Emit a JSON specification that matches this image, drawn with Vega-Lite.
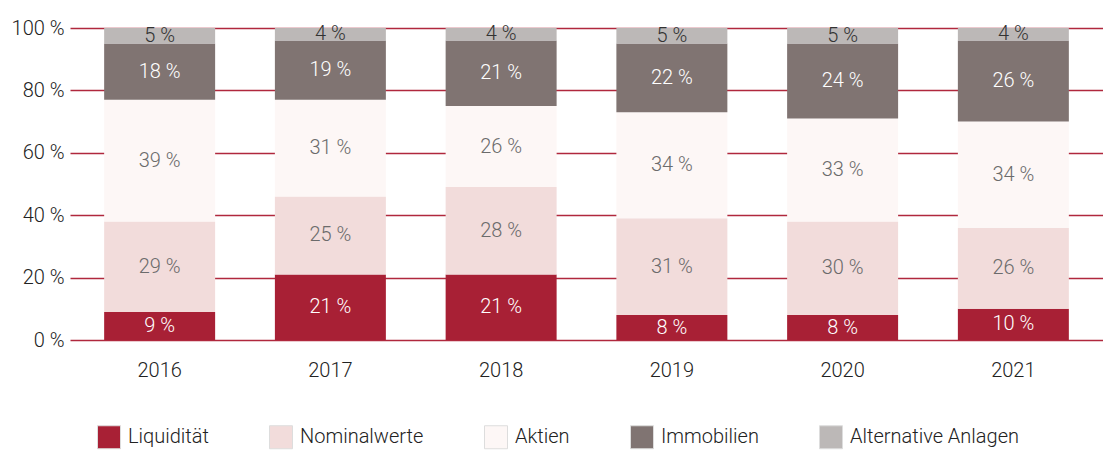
{
  "$schema": "https://vega.github.io/schema/vega-lite/v6.json",
  "autosize": {"type": "none"},
  "width": 1033,
  "height": 312,
  "padding": {"left": 70, "top": 28, "right": 0, "bottom": 110},
  "config": {
    "view": {"stroke": null},
    "font": "Roboto",
    "axis": {"labelFont": "Roboto", "labelFontWeight": 300, "labelFontSize": 20, "labelColor": "#222222"},
    "legend": {"labelFont": "Roboto", "labelFontWeight": 300, "labelFontSize": 20, "labelColor": "#222222"}
  },
  "data": {
    "values": [
      {"year": "2016", "cat": "Liquidität", "value": 9},
      {"year": "2016", "cat": "Nominalwerte", "value": 29},
      {"year": "2016", "cat": "Aktien", "value": 39},
      {"year": "2016", "cat": "Immobilien", "value": 18},
      {"year": "2016", "cat": "Alternative Anlagen", "value": 5},
      {"year": "2017", "cat": "Liquidität", "value": 21},
      {"year": "2017", "cat": "Nominalwerte", "value": 25},
      {"year": "2017", "cat": "Aktien", "value": 31},
      {"year": "2017", "cat": "Immobilien", "value": 19},
      {"year": "2017", "cat": "Alternative Anlagen", "value": 4},
      {"year": "2018", "cat": "Liquidität", "value": 21},
      {"year": "2018", "cat": "Nominalwerte", "value": 28},
      {"year": "2018", "cat": "Aktien", "value": 26},
      {"year": "2018", "cat": "Immobilien", "value": 21},
      {"year": "2018", "cat": "Alternative Anlagen", "value": 4},
      {"year": "2019", "cat": "Liquidität", "value": 8},
      {"year": "2019", "cat": "Nominalwerte", "value": 31},
      {"year": "2019", "cat": "Aktien", "value": 34},
      {"year": "2019", "cat": "Immobilien", "value": 22},
      {"year": "2019", "cat": "Alternative Anlagen", "value": 5},
      {"year": "2020", "cat": "Liquidität", "value": 8},
      {"year": "2020", "cat": "Nominalwerte", "value": 30},
      {"year": "2020", "cat": "Aktien", "value": 33},
      {"year": "2020", "cat": "Immobilien", "value": 24},
      {"year": "2020", "cat": "Alternative Anlagen", "value": 5},
      {"year": "2021", "cat": "Liquidität", "value": 10},
      {"year": "2021", "cat": "Nominalwerte", "value": 26},
      {"year": "2021", "cat": "Aktien", "value": 34},
      {"year": "2021", "cat": "Immobilien", "value": 26},
      {"year": "2021", "cat": "Alternative Anlagen", "value": 4}
    ]
  },
  "transform": [
    {"calculate": "indexof(['Liquidität','Nominalwerte','Aktien','Immobilien','Alternative Anlagen'], datum.cat)", "as": "ord"},
    {"stack": "value", "groupby": ["year"], "sort": [{"field": "ord", "order": "ascending"}], "as": ["y0", "y1"]},
    {"calculate": "(datum.y0 + datum.y1) / 2", "as": "mid"},
    {"calculate": "datum.value + ' %'", "as": "label"}
  ],
  "encoding": {
    "x": {
      "field": "year", "type": "nominal", "title": null,
      "scale": {"paddingInner": 0.35, "paddingOuter": 0.2},
      "axis": {"ticks": false, "domain": false, "labelAngle": 0, "labelPadding": 20, "grid": false}
    }
  },
  "layer": [
    {
      "mark": {"type": "bar"},
      "encoding": {
        "y": {
          "field": "y0", "type": "quantitative", "title": null,
          "scale": {"domain": [0, 100], "nice": false},
          "axis": {
            "values": [0, 20, 40, 60, 80, 100],
            "labelExpr": "datum.value + ' %'",
            "ticks": false, "domain": false,
            "grid": true, "gridColor": "#b0283d", "gridWidth": 1.5, "gridOpacity": 1,
            "labelPadding": 6, "zindex": 0
          }
        },
        "y2": {"field": "y1"},
        "color": {
          "field": "cat", "type": "nominal",
          "scale": {
            "domain": ["Liquidität", "Nominalwerte", "Aktien", "Immobilien", "Alternative Anlagen"],
            "range": ["#a82035", "#f2dcdb", "#fdf7f6", "#807472", "#bcb8b7"]
          },
          "legend": {
            "title": null,
            "orient": "none",
            "direction": "horizontal",
            "legendX": 27,
            "legendY": 397,
            "symbolType": "square",
            "symbolSize": 529,
            "symbolStrokeColor": "#dddddd",
            "symbolStrokeWidth": 1,
            "columnPadding": 58,
            "labelOffset": 7,
            "labelLimit": 400
          }
        }
      }
    },
    {
      "mark": {"type": "text", "fontSize": 20, "fontWeight": 300, "baseline": "middle", "font": "Roboto"},
      "encoding": {
        "y": {"field": "mid", "type": "quantitative"},
        "text": {"field": "label"},
        "color": {
          "field": "cat", "type": "nominal",
          "scale": {
            "domain": ["Liquidität", "Nominalwerte", "Aktien", "Immobilien", "Alternative Anlagen"],
            "range": ["#ffffff", "#6b6b6b", "#6b6b6b", "#ffffff", "#333333"]
          },
          "legend": null
        }
      }
    }
  ],
  "resolve": {"scale": {"color": "independent"}}
}
